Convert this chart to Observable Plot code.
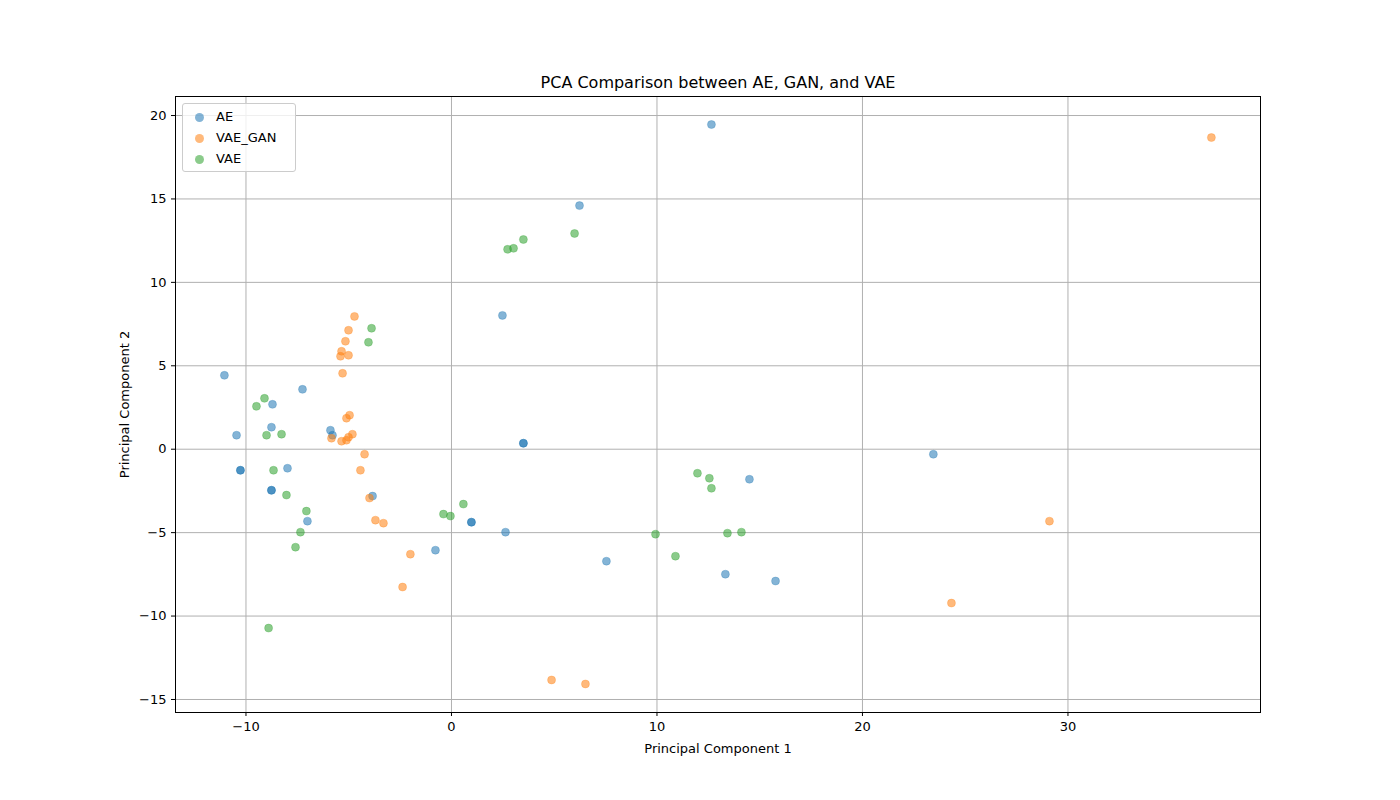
<!DOCTYPE html>
<html>
<head>
<meta charset="utf-8">
<script src="https://cdn.jsdelivr.net/npm/d3@7"></script>
<script src="https://cdn.jsdelivr.net/npm/@observablehq/plot@0.6"></script>
<style>
body { margin: 0; background: #fff; font-family: "DejaVu Sans", sans-serif; }
#wrap { position: relative; width: 1400px; height: 800px; }
#legend { position: absolute; left: 182px; top: 103px; width: 112px; padding: 2px 0; border: 1px solid #ccc; border-radius: 3px; background: rgba(255,255,255,0.8); font-size: 13px; }
#legend div { height: 21px; line-height: 21px; padding-left: 12px; }
#legend span { display: inline-block; width: 9px; height: 9px; border-radius: 50%; opacity: 0.55; margin-right: 12px; vertical-align: -1px; }
</style>
</head>
<body>
<div id="wrap"><div id="chart"></div><div id="legend"></div></div>
<script>
const series = ["AE", "VAE_GAN", "VAE"];
const colors = ["#1f77b4", "#ff7f0e", "#2ca02c"];

const aeX = [12.65, 6.23, 2.48, -11.05, -7.25, -8.71, -10.46, -8.76, -5.89, -5.79, -10.27, -10.27, -7.98, 3.50, 3.50, 23.45, 14.5, -8.76, -8.76, -3.84, -7.01, 0.97, 0.97, 2.63, -0.78, 7.54, 13.33, 15.77];
const aeY = [19.46, 14.6, 8.02, 4.43, 3.59, 2.69, 0.84, 1.32, 1.14, 0.84, -1.26, -1.26, -1.14, 0.36, 0.36, -0.30, -1.8, -2.46, -2.46, -2.81, -4.31, -4.37, -4.37, -4.97, -6.05, -6.71, -7.49, -7.90];

const ganX = [36.98, -4.72, -5.01, -5.16, -5.35, -5.40, -5.01, -5.30, -4.96, -5.11, -4.82, -5.01, -5.11, -5.35, -5.84, -4.23, -4.43, -3.99, -3.70, -3.31, -2.00, -2.38, 29.1, 24.33, 4.87, 6.52];
const ganY = [18.68, 7.96, 7.13, 6.47, 5.87, 5.57, 5.63, 4.55, 2.04, 1.86, 0.90, 0.72, 0.54, 0.48, 0.66, -0.30, -1.26, -2.93, -4.25, -4.43, -6.29, -8.26, -4.31, -9.22, -13.83, -14.07];

const vaeX = [5.99, 3.50, 3.02, 2.73, -3.89, -4.04, -9.10, -9.49, -9.0, -8.27, -8.66, 11.97, 12.55, 12.65, -8.03, 0.58, -7.06, -0.39, -0.05, -7.35, 13.43, 14.11, 9.93, 10.9, -7.59, -8.9];
const vaeY = [12.93, 12.57, 12.04, 11.98, 7.25, 6.41, 3.05, 2.57, 0.84, 0.90, -1.26, -1.44, -1.74, -2.34, -2.75, -3.29, -3.71, -3.89, -4.01, -4.97, -5.03, -4.97, -5.09, -6.41, -5.87, -10.72];

const xs = [aeX, ganX, vaeX], ys = [aeY, ganY, vaeY];
const data = series.flatMap((s, i) => xs[i].map((x, j) => ({ s, x, y: ys[i][j] })));

const chart = Plot.plot({
  width: 1400, height: 800,
  marginLeft: 175, marginRight: 140, marginTop: 96, marginBottom: 88,
  style: { fontFamily: "DejaVu Sans, sans-serif", fontSize: "13px", color: "black" },
  x: { domain: [-13.43, 39.37], ticks: [-10, 0, 10, 20, 30], label: "Principal Component 1", labelArrow: "none", labelAnchor: "center", labelOffset: 40, tickSize: 4 },
  y: { domain: [-15.78, 21.14], ticks: [-15, -10, -5, 0, 5, 10, 15, 20], label: "Principal Component 2", labelArrow: "none", labelAnchor: "center", labelOffset: 56, tickSize: 4, tickFormat: d => d < 0 ? "\u2212" + Math.abs(d) : d },
  color: { domain: series, range: colors },
  marks: [
    Plot.gridX({ ticks: [-10, 0, 10, 20, 30], stroke: "#b0b0b0", strokeOpacity: 1 }),
    Plot.gridY({ ticks: [-15, -10, -5, 0, 5, 10, 15, 20], stroke: "#b0b0b0", strokeOpacity: 1 }),
    Plot.dot(data, { x: "x", y: "y", fill: "s", r: 4, fillOpacity: 0.55, stroke: "s", strokeOpacity: 0.55, strokeWidth: 0.5 }),
    Plot.frame({ stroke: "black" }),
    Plot.text(["PCA Comparison between AE, GAN, and VAE"], { frameAnchor: "top", dy: -20, fontSize: 16, fill: "black" })
  ]
});
document.getElementById("chart").append(chart);

const leg = d3.select("#legend");
series.forEach((s, i) => {
  const row = leg.append("div");
  row.append("span").style("background", colors[i]);
  row.append("text").text(s);
});
</script>
</body>
</html>
